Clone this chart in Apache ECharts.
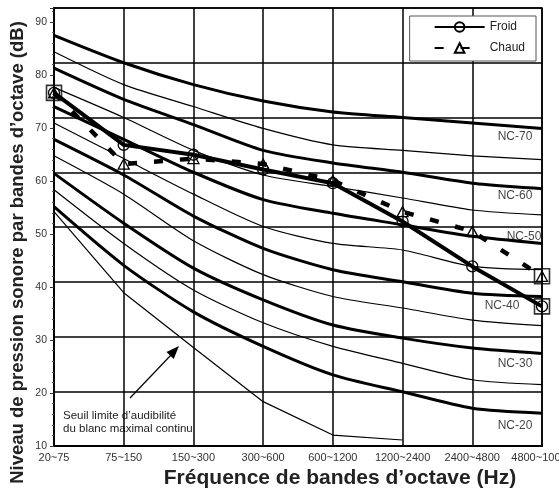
<!DOCTYPE html>
<html>
<head>
<meta charset="utf-8">
<title>Courbes NC</title>
<script src="https://cdn.jsdelivr.net/npm/echarts@6/dist/echarts.min.js"></script>
<style>
  html, body { margin: 0; padding: 0; background: #fff; }
  #main { width: 559px; height: 495px; }
</style>
</head>
<body>
<div id="main"></div>
<script>
// bandes d'octave (Hz)
var bands = ["20~75", "75~150", "150~300", "300~600", "600~1200", "1200~2400", "2400~4800", "4800~10000"];

// courbes NC (dB)
var nc70 = [85, 80, 76, 73, 71, 70, 69, 68];
var nc65 = [82, 76, 72, 68, 65, 64, 63, 62.3];
var nc60 = [79, 73.3, 68.7, 64, 61.7, 60, 58, 57];
var nc55 = [75.5, 70, 64, 59.5, 57.4, 55.3, 53.1, 52.2];
var nc50 = [72, 66, 60, 55, 52.5, 50.4, 48.3, 47];
var nc45 = [69, 62.5, 56, 50.1, 47, 45.8, 42.8, 42.2];
var nc40 = [66, 59.5, 52, 46.1, 42.2, 40, 37.9, 37.3];
var nc35 = [63, 56, 47.5, 41.3, 37.3, 35.2, 33, 32];
var nc30 = [59.8, 50.7, 42.5, 36.7, 32.1, 29.7, 27.9, 26.9];
var nc25 = [56.8, 47, 38.5, 32.5, 28.2, 25.1, 22.1, 21.2];
var nc20 = [53.7, 43, 34.5, 28.2, 23, 19.9, 16.9, 16];
// seuil limite d'audibilité du bruit blanc
var seuil = [52.8, 38, 28, 18.1, 12, 11.1, null, null];

// mesures
var froid = [74.5, 65, 63.2, 60.5, 58, 51, 42.8, 35.5];
var chaud = [74.5, 61.5, 62.5, 61.5, 58.5, 52.8, 49.2, 41];

var FONT = '"Liberation Sans", Arial, Helvetica, sans-serif';

var ncList = [
  ["NC-70", nc70, true],
  ["NC-65", nc65, false],
  ["NC-60", nc60, true],
  ["NC-55", nc55, false],
  ["NC-50", nc50, true],
  ["NC-45", nc45, false],
  ["NC-40", nc40, true],
  ["NC-35", nc35, false],
  ["NC-30", nc30, true],
  ["NC-25", nc25, false],
  ["NC-20", nc20, true]
];
// décalage des étiquettes NC par rapport au dernier point
var ncLabelOffset = {
  "NC-70": [-27, 8],
  "NC-60": [-27, 7],
  "NC-50": [-18, -7],
  "NC-40": [-40, 9],
  "NC-30": [-27, 10],
  "NC-20": [-27, 13]
};

var last = bands.length - 1;
var series = [];

ncList.forEach(function (c) {
  series.push({
    name: c[0],
    type: "line",
    data: c[1],
    symbol: "none",
    smooth: 0.25,
    silent: true,
    z: 2,
    lineStyle: { color: "#000", width: c[2] ? 3 : 1.2 }
  });
});

series.push({
  name: "Seuil",
  type: "line",
  data: seuil,
  symbol: "none",
  silent: true,
  z: 2,
  lineStyle: { color: "#000", width: 1.2 }
});

series.push({
  name: "Froid",
  type: "line",
  data: froid,
  symbol: "circle",
  symbolSize: 11,
  z: 5,
  itemStyle: { color: "rgba(255,255,255,0)", borderColor: "#000", borderWidth: 1.3 },
  lineStyle: { color: "#000", width: 4 }
});

series.push({
  name: "Chaud",
  type: "line",
  data: chaud,
  symbol: "triangle",
  symbolSize: [11, 10],
  z: 5,
  itemStyle: { color: "rgba(255,255,255,0)", borderColor: "#000", borderWidth: 1.3 },
  lineStyle: { color: "#000", width: 4.5, type: [9, 17] }
});

// carrés aux extrémités des mesures
series.push({
  name: "Extremites",
  type: "scatter",
  data: [[bands[0], froid[0]], [bands[last], froid[last]], [bands[last], chaud[last]]],
  symbol: "rect",
  symbolSize: 15,
  silent: true,
  z: 6,
  itemStyle: { color: "rgba(255,255,255,0)", borderColor: "#000", borderWidth: 1.6 }
});

// étiquettes NC
series.push({
  name: "Etiquettes",
  type: "scatter",
  symbolSize: 1,
  silent: true,
  z: 7,
  itemStyle: { color: "rgba(0,0,0,0)" },
  label: { show: true, position: "inside", color: "#111", fontSize: 12, fontFamily: FONT },
  data: ncList.filter(function (c) { return ncLabelOffset[c[0]]; }).map(function (c) {
    return {
      value: [bands[last], c[1][last]],
      label: { formatter: c[0], offset: ncLabelOffset[c[0]] }
    };
  })
});

var option = {
  animation: false,
  backgroundColor: "#fff",
  textStyle: { fontFamily: FONT },
  grid: {
    left: 54, right: 17, top: 8, bottom: 49,
    containLabel: false,
    outerBoundsMode: "none",
    show: true, borderColor: "#000", borderWidth: 1.5
  },
  legend: {
    data: ["Froid", "Chaud"],
    orient: "vertical",
    right: 23,
    top: 16,
    align: "left",
    itemWidth: 50,
    itemHeight: 12,
    itemGap: 9,
    padding: [5, 11, 7, 24],
    borderColor: "#555",
    borderWidth: 1,
    backgroundColor: "#fff",
    textStyle: { fontSize: 12, color: "#222", fontFamily: FONT }
  },
  xAxis: {
    type: "category",
    data: bands,
    boundaryGap: false,
    name: "Fréquence de bandes d’octave (Hz)",
    nameLocation: "middle",
    nameGap: 21,
    nameTextStyle: { fontSize: 21, fontWeight: "bold", color: "#222", padding: [0, 0, 0, 84] },
    axisLine: { lineStyle: { color: "#000", width: 2 } },
    axisTick: { show: false },
    axisLabel: { interval: 0, margin: 6, fontSize: 11, color: "#333" },
    splitLine: { show: true, interval: 0, lineStyle: { color: "#000", width: 1.5 } }
  },
  yAxis: [
    {
      type: "value",
      min: 10,
      max: 90,
      interval: 10,
      name: "Niveau de pression sonore par bandes d’octave (dB)",
      nameLocation: "middle",
      nameGap: 27,
      nameTextStyle: { fontSize: 18.5, fontWeight: "bold", color: "#222", padding: [0, 51, 0, 0] },
      axisLine: { show: true, lineStyle: { color: "#000", width: 2 } },
      axisTick: { show: false },
      axisLabel: { show: false },
      splitLine: { show: true, lineStyle: { color: "#000", width: 1.5 } }
    },
    {
      // graduations imprimées (légèrement décalées des lignes de grille)
      type: "value",
      position: "left",
      min: 10,
      max: 92.64,
      interval: 10,
      axisLine: { show: false },
      axisTick: { show: true, length: 4, lineStyle: { color: "#333" } },
      minorTick: { show: true, splitNumber: 5, length: 2, lineStyle: { color: "#555" } },
      axisLabel: { fontSize: 10.5, color: "#333", margin: 7, showMaxLabel: false },
      splitLine: { show: false }
    }
  ],
  graphic: [
    {
      type: "text",
      left: 63,
      top: 409,
      silent: true,
      style: {
        text: "Seuil limite d’audibilité\ndu blanc maximal continu",
        font: "11.5px " + FONT,
        fill: "#222",
        lineHeight: 13
      }
    },
    {
      type: "line",
      silent: true,
      shape: { x1: 130, y1: 398, x2: 172, y2: 354 },
      style: { stroke: "#000", lineWidth: 1.2 }
    },
    {
      type: "polygon",
      silent: true,
      shape: { points: [[179, 346], [166.5, 352.1], [173.7, 358.9]] },
      style: { fill: "#000" }
    }
  ],
  series: series
};

var chart = echarts.init(document.getElementById("main"));
chart.setOption(option);
</script>
</body>
</html>
